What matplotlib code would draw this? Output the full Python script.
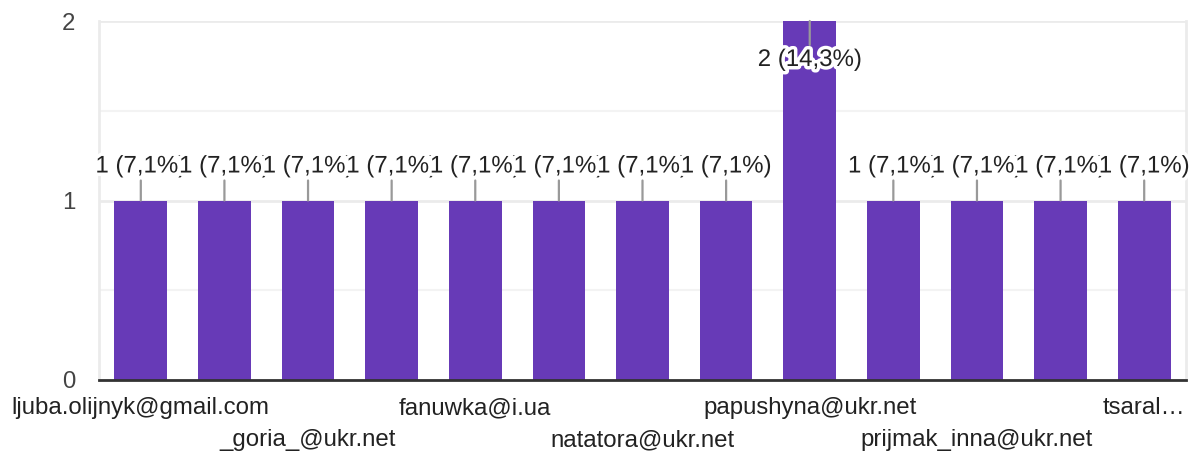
import matplotlib
matplotlib.use("Agg")
import matplotlib.pyplot as plt
import matplotlib.patheffects as pe

plt.rcParams['font.family'] = ['Liberation Sans', 'DejaVu Sans']

labels = ["ljuba.olijnyk@gmail.com", "", "_goria_@ukr.net", "", "fanuwka@i.ua", "",
          "natatora@ukr.net", "", "papushyna@ukr.net", "", "prijmak_inna@ukr.net", "",
          "tsaral…"]
values = [1, 1, 1, 1, 1, 1, 1, 1, 2, 1, 1, 1, 1]
yticks = [0, 1, 2]

total = sum(values)
bar_color = "#673AB7"
FS = 17.3

fig = plt.figure(figsize=(11.96, 4.54), dpi=100)
ax = fig.add_axes([99/1196, 74/454, (1186-99)/1196, (380-21)/454])

x = list(range(len(values)))
ax.bar(x, values, width=0.63, color=bar_color, zorder=2)

ax.set_xlim(-0.5, len(values) - 0.5)
ax.set_ylim(0, 2)
ax.set_yticks(yticks)
ax.set_yticks([0.5, 1.5], minor=True)
ax.grid(axis='y', which='major', color='#ebebeb', lw=2, zorder=0)
ax.grid(axis='y', which='minor', color='#f3f3f3', lw=1.5, zorder=0)
ax.spines['top'].set_visible(False)
for s in ['left', 'right']:
    ax.spines[s].set_color('#ebebeb')
    ax.spines[s].set_linewidth(2)
ax.spines['bottom'].set_color('#333333')
ax.spines['bottom'].set_linewidth(2)
ax.spines['bottom'].set_zorder(3)
ax.tick_params(axis='y', which='both', length=0, pad=17, labelsize=FS, labelcolor='#444444')
ax.tick_params(axis='x', length=0, labelbottom=False)

# x category labels in two staggered rows
for i, lab in enumerate(labels):
    if not lab:
        continue
    row = (i // 2) % 2
    ax.annotate(lab, xy=(i, 0), xycoords='data', xytext=(0, -28 - 32 * row),
                textcoords='offset pixels', ha='center', va='center',
                fontsize=FS, color='#222222', annotation_clip=False)

halo = [pe.withStroke(linewidth=5, foreground='white')]
for i, v in enumerate(values):
    pct = f"{v / total * 100:.1f}".replace('.', ',')
    txt = f"{v} ({pct}%)"
    if v >= 2:
        ax.annotate("", xy=(i, v), xytext=(0, -24), textcoords='offset pixels',
                    arrowprops=dict(arrowstyle='-', color='#999999', lw=1.6,
                                    shrinkA=0, shrinkB=0), zorder=4)
        ax.annotate(txt, xy=(i, v), xytext=(0, -39), textcoords='offset pixels',
                    ha='center', va='center', fontsize=FS, color='#222222',
                    path_effects=halo, zorder=5 + i)
    else:
        ax.annotate("", xy=(i, v), xytext=(0, 20), textcoords='offset pixels',
                    arrowprops=dict(arrowstyle='-', color='#999999', lw=1.6,
                                    shrinkA=0, shrinkB=0), zorder=4)
        ax.annotate(txt, xy=(i, v), xytext=(0, 34), textcoords='offset pixels',
                    ha='center', va='center', fontsize=FS, color='#222222',
                    path_effects=halo, zorder=5 + i, annotation_clip=False)

fig.savefig("out.png", dpi=100)
